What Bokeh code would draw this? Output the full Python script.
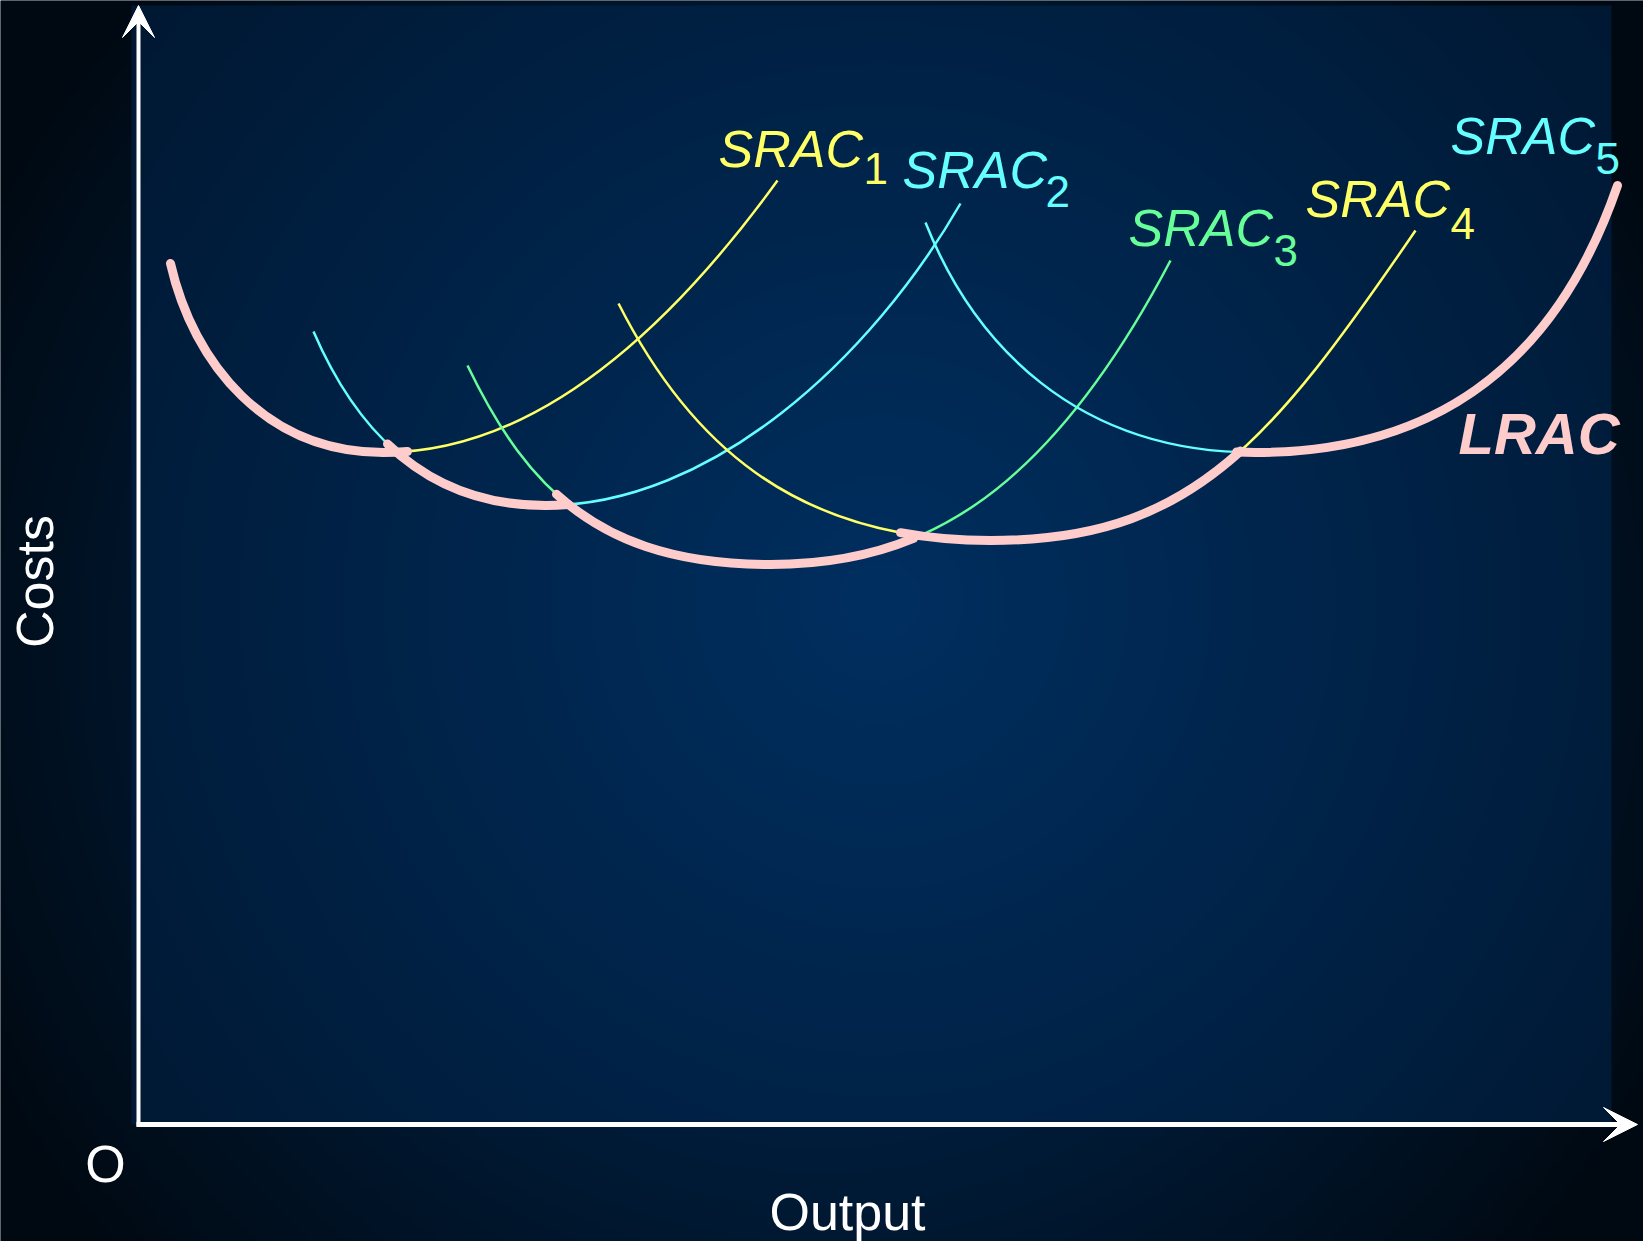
import numpy as np
from bokeh.plotting import figure
from bokeh.models import Range1d, Arrow, VeeHead
from bokeh.embed import file_html
from bokeh.resources import INLINE
from bokeh.core.properties import value

# ---------------- data (Output on x, Costs on y, arbitrary units) ----------------
# each short-run average cost curve: left branch and right branch, as cubic
# Bezier control points (start, control 1, control 2, end)
srac1_left = [(3.2, 86.1), (5.5, 76.0), (12.8, 67.2), (24.5, 67.2)]
srac1_right = [(24.5, 67.2), (40.5, 67.2), (53.9, 80.6), (63.9, 94.4)]
srac2_left = [(17.5, 79.3), (21.3, 70.5), (27.9, 61.9), (40.7, 61.9)]
srac2_right = [(40.7, 61.9), (57.3, 61.9), (73.2, 76.5), (82.2, 92.1)]
srac3_left = [(32.9, 75.9), (39.0, 63.2), (46.5, 56.0), (63.2, 56.0)]
srac3_right = [(63.2, 56.0), (77.2, 56.0), (90.2, 61.6), (103.2, 86.4)]
srac4_left = [(48.0, 82.1), (54.8, 68.7), (65.2, 58.4), (85.2, 58.4)]
srac4_right = [(85.2, 58.4), (105.2, 58.4), (113.0, 67.9), (127.7, 89.4)]
srac5_left = [(78.7, 90.2), (83.5, 78.1), (93.7, 67.2), (111.7, 67.2)]
srac5_right = [(111.7, 67.2), (128.7, 67.2), (141.4, 75.0), (147.9, 93.9)]

# LRAC (envelope): which SRAC is used over which output range
lrac_curve = [1, 2, 3, 4, 5]
lrac_from = [3.2, 24.9, 41.8, 76.2, 109.8]
lrac_to = [26.9, 43.0, 77.5, 110.2, 147.9]

label_names = ["SRAC", "SRAC", "SRAC", "SRAC", "SRAC"]
label_subs = ["1", "2", "3", "4", "5"]
label_x = [58.0, 76.4, 99.0, 116.7, 131.2]
label_y = [97.6, 95.5, 89.7, 92.6, 98.9]
sub_x = [72.5, 90.7, 113.5, 131.2, 145.7]
sub_y = [95.6, 93.3, 87.4, 90.1, 96.6]

YELLOW = "#ffff66"
CYAN = "#66ffff"
GREEN = "#66ff99"
PINK = "#ffcccc"
label_colors = [YELLOW, CYAN, GREEN, YELLOW, CYAN]

srac_branches = {
    1: (srac1_left, srac1_right, YELLOW),
    2: (srac2_left, srac2_right, CYAN),
    3: (srac3_left, srac3_right, GREEN),
    4: (srac4_left, srac4_right, YELLOW),
    5: (srac5_left, srac5_right, CYAN),
}

# ---------------- figure geometry ----------------
W, H = 1643, 1241
X0, Y0 = 138, 1124          # canvas pixel of the origin
S = 10.0                    # pixels per data unit
x0, x1 = -X0 / S, (W - X0) / S
y0, y1 = -(H - Y0) / S, Y0 / S

p = figure(width=W, height=H, x_range=Range1d(x0, x1), y_range=Range1d(y0, y1),
           output_backend="svg", toolbar_location=None, min_border=0,
           background_fill_color="#000c18", border_fill_color="#000c18")
p.axis.visible = False
p.grid.visible = False
p.outline_line_color = None


def to_page(xd, yd):
    return X0 + S * xd, Y0 - S * yd


def grad_image(xa, xb, ya, yb, cx, cy, c0, slope, cmin, step=4):
    nx = int(round((xb - xa) * S / step))
    ny = int(round((yb - ya) * S / step))
    xs = xa + (np.arange(nx) + 0.5) * (xb - xa) / nx
    ys = ya + (np.arange(ny) + 0.5) * (yb - ya) / ny
    XX, YY = np.meshgrid(xs, ys)
    PX, PY = to_page(XX, YY)
    d = np.hypot(PX - cx, PY - cy)
    img = np.zeros((ny, nx), dtype=np.uint32)
    v = img.view(dtype=np.uint8).reshape((ny, nx, 4))
    for k in range(3):
        v[:, :, k] = np.clip(c0[k] + slope[k] * d, cmin[k], 255).astype(np.uint8)
    v[:, :, 3] = 255
    return img


outer = grad_image(x0, x1, y0, y1, 820, 640, (0, 50, 103), (0, -0.0432, -0.09), (0, 9, 18))
p.image_rgba(image=[outer], x=x0, y=y0, dw=x1 - x0, dh=y1 - y0)

px0, px1, py1 = -0.7, 147.3, 111.9
panel = grad_image(px0, px1, 0, py1, 880, 600, (0, 47, 96), (0, -0.0242, -0.0484), (0, 20, 42))
p.image_rgba(image=[panel], x=px0, y=0, dw=px1 - px0, dh=py1)


# ---------------- Bezier helpers ----------------
def bez_x(P, t):
    u = 1 - t
    return u**3 * P[0][0] + 3 * u * u * t * P[1][0] + 3 * u * t * t * P[2][0] + t**3 * P[3][0]


def cut(P, t):
    a, b, c, d = [np.array(q, dtype=float) for q in P]
    ab, bc, cd = a + (b - a) * t, b + (c - b) * t, c + (d - c) * t
    abc, bcd = ab + (bc - ab) * t, bc + (cd - bc) * t
    m = abc + (bcd - abc) * t
    return [a, ab, abc, m], [m, bcd, cd, d]


def sub_curve(P, t0, t1):
    first, _ = cut(P, t1)
    _, piece = cut(first, t0 / t1 if t1 > 0 else 0.0)
    return piece


def t_at_x(P, x):
    lo, hi = 0.0, 1.0
    for _ in range(60):
        mid = 0.5 * (lo + hi)
        if bez_x(P, mid) < x:
            lo = mid
        else:
            hi = mid
    return 0.5 * (lo + hi)


def draw_bez(pieces, color, width, cap="butt"):
    p.bezier(x0=[q[0][0] for q in pieces], y0=[q[0][1] for q in pieces],
             cx0=[q[1][0] for q in pieces], cy0=[q[1][1] for q in pieces],
             cx1=[q[2][0] for q in pieces], cy1=[q[2][1] for q in pieces],
             x1=[q[3][0] for q in pieces], y1=[q[3][1] for q in pieces],
             line_color=color, line_width=width, line_cap=cap)


# short-run curves (thin)
for k in sorted(srac_branches):
    left, right, col = srac_branches[k]
    draw_bez([left, right], col, 2.5)

# long-run curve (thick), made of the parts of each SRAC it follows
lrac_pieces = []
for k, a, b in zip(lrac_curve, lrac_from, lrac_to):
    for br in srac_branches[k][:2]:
        lo, hi = max(a, br[0][0]), min(b, br[3][0])
        if hi - lo > 1e-6:
            lrac_pieces.append(sub_curve(br, t_at_x(br, lo), t_at_x(br, hi)))
draw_bez(lrac_pieces, PINK, 9, cap="round")

# axes with arrows
p.add_layout(Arrow(end=VeeHead(size=32, fill_color="white", line_color="white", line_width=1),
                   x_start=0, y_start=-0.2, x_end=0, y_end=111.9,
                   line_color="white", line_width=4))
p.add_layout(Arrow(end=VeeHead(size=34, fill_color="white", line_color="white", line_width=1),
                   x_start=-0.2, y_start=0, x_end=149.9, y_end=0,
                   line_color="white", line_width=5))

FONT = value("Liberation Sans")
p.text(x=label_x, y=label_y, text=label_names, text_color=label_colors,
       text_font=FONT, text_font_size="52px", text_font_style="italic",
       text_align="left", text_baseline="alphabetic")
p.text(x=sub_x, y=sub_y, text=label_subs, text_color=label_colors,
       text_font=FONT, text_font_size="44px",
       text_align="left", text_baseline="alphabetic")
p.text(x=[132.0], y=[69.1], text=["LRAC"], text_color=PINK,
       text_font=FONT, text_font_size="58px", text_font_style="bold italic",
       text_align="left", text_baseline="alphabetic")

p.text(x=[-3.3], y=[-3.9], text=["O"], text_color="white", text_font=FONT,
       text_font_size="52px", text_align="center", text_baseline="alphabetic")
p.text(x=[70.9], y=[-8.7], text=["Output"], text_color="white", text_font=FONT,
       text_font_size="52px", text_align="center", text_baseline="alphabetic")
p.text(x=[-10.4], y=[54.3], text=["Costs"], text_color="white", text_font=FONT,
       text_font_size="52px", text_align="center", text_baseline="alphabetic",
       angle=np.pi / 2)

open("out.html", "w").write(file_html(p, INLINE))
